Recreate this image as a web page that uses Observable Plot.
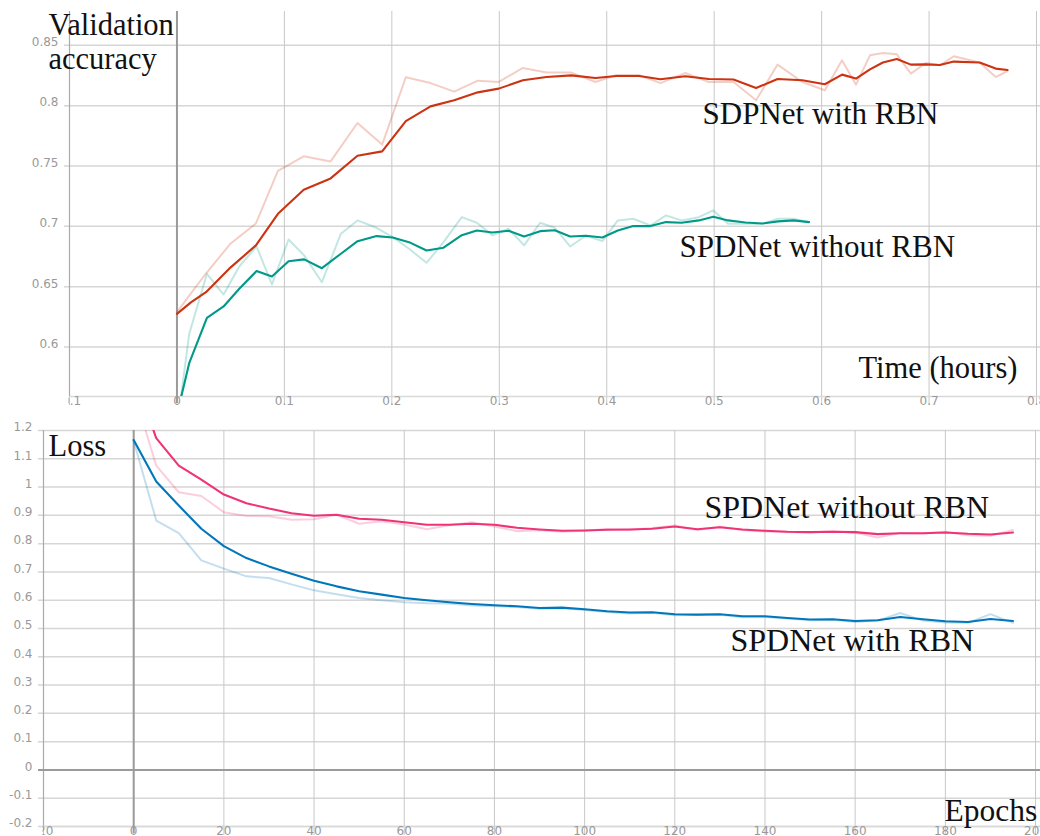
<!DOCTYPE html>
<html><head><meta charset="utf-8">
<script src="https://cdn.jsdelivr.net/npm/d3@7"></script>
<script src="https://cdn.jsdelivr.net/npm/@observablehq/plot@0.6"></script>
<style>
html,body{margin:0;padding:0;background:#fff;overflow:hidden;}
#wrap{width:1040px;height:836px;overflow:hidden;}
#wrap svg{display:block;}
</style></head><body><div id="wrap"></div>
<script>
// ---------- Top chart: validation accuracy vs time (hours) ----------
const timeWithRBN = [0,0.013,0.027,0.050,0.0735,0.094,0.118,0.143,0.168,0.191,0.213,0.236,0.258,0.280,
  0.2995,0.322,0.344,0.367,0.3895,0.409,0.430,0.450,0.473,0.495,0.518,0.539,0.559,0.582,0.603,0.619,
  0.632,0.645,0.657,0.670,0.683,0.697,0.710,0.723,0.747,0.762,0.773];
const accWithRBNSmooth = [0.6275,0.637,0.6454,0.666,0.6842,0.7104,0.7303,0.7397,0.7585,0.7621,0.7872,0.7994,0.8044,0.8110,
  0.8141,0.8210,0.8237,0.8251,0.8229,0.8245,0.8245,0.8218,0.8243,0.8221,0.8216,0.8146,0.8221,0.8210,0.8177,0.8257,
  0.8224,0.8301,0.8357,0.8386,0.8340,0.8342,0.8337,0.8365,0.8357,0.8307,0.8295];
const accWithRBNRaw = [0.6289,0.6444,0.6609,0.6858,0.7024,0.7459,0.7580,0.7538,0.7856,0.7677,0.8235,0.8187,0.8116,0.8207,
  0.8196,0.8312,0.8274,0.8274,0.8196,0.8254,0.8254,0.8187,0.8270,0.8196,0.8196,0.8044,0.8340,0.8196,0.8127,0.8376,
  0.8174,0.8417,0.8436,0.8425,0.8265,0.8353,0.8334,0.8409,0.8357,0.8237,0.8287];

const timeWithoutRBN = [0,0.0114,0.0279,0.0434,0.0580,0.0741,0.0884,0.1039,0.1184,0.1349,
  0.1526,0.1681,0.1858,0.2007,0.2160,0.2323,0.2481,0.2651,0.2791,0.2937,
  0.3086,0.3231,0.3380,0.3516,0.3659,0.3805,0.3960,0.4103,0.4247,0.4407,
  0.4552,0.4697,0.4857,0.4992,0.5129,0.5290,0.5450,0.5594,0.5739,0.5883];
const accWithoutRBNSmooth = [0.544,0.5866,0.6242,0.6336,0.6483,0.6629,0.6585,0.6711,0.6726,0.6653,
  0.6773,0.6877,0.6919,0.6908,0.6869,0.6800,0.6823,0.6927,0.6966,0.6949,
  0.6963,0.6916,0.6960,0.6968,0.6916,0.6922,0.6908,0.6966,0.7002,0.7002,
  0.7035,0.7030,0.7049,0.7080,0.7049,0.7032,0.7024,0.7041,0.7049,0.7035];
const accWithoutRBNRaw = [0.533,0.6109,0.6607,0.6435,0.6667,0.6833,0.6518,0.6891,0.6759,0.6537,
  0.6939,0.7049,0.6988,0.6910,0.6814,0.6698,0.6869,0.7076,0.7030,0.6925,
  0.6980,0.6842,0.7030,0.6988,0.6833,0.6922,0.6877,0.7049,0.7063,0.7007,
  0.7090,0.7049,0.7076,0.7132,0.7022,0.7022,0.7022,0.7063,0.7063,0.7035];

const topXTicks = [-0.1,0,0.1,0.2,0.3,0.4,0.5,0.6,0.7,0.8];
const topYTicks = [0.6,0.65,0.7,0.75,0.8,0.85];
const topXDomain = [-0.1, 0.8037];
const topYDomain = [0.559, 0.878];

// ---------- Bottom chart: loss vs epochs ----------
const epochs = [0,5,10,15,20,25,30,35,40,45,50,55,60,65,70,75,80,85,90,95,
  100,105,110,115,120,125,130,135,140,145,150,155,160,165,170,175,180,185,190,195];
const lossWithRBNSmooth = [1.1665,1.0194,0.9347,0.8526,0.7912,0.7489,0.7196,0.6938,0.6691,0.6490,
  0.6314,0.6198,0.6078,0.5996,0.5926,0.5866,0.5820,0.5785,0.5725,0.5739,
  0.5679,0.5608,0.5563,0.5573,0.5503,0.5492,0.5503,0.5432,0.5432,0.5372,
  0.5316,0.5326,0.5266,0.5291,0.5407,0.5326,0.5256,0.5231,0.5337,0.5266];
const lossWithRBNRaw = [1.164,0.8818,0.8370,0.7407,0.7115,0.6843,0.6783,0.6561,0.6349,0.6208,
  0.6078,0.5996,0.5926,0.5891,0.5880,0.5810,0.5785,0.5760,0.570,0.572,
  0.565,0.558,0.553,0.556,0.547,0.548,0.549,0.540,0.541,0.535,
  0.529,0.531,0.523,0.528,0.555,0.528,0.521,0.520,0.551,0.520];
const lossWithoutRBNSmooth = [1.40,1.1728,1.0758,1.0265,0.9735,0.9429,0.9242,0.9076,0.8984,0.9019,
  0.8878,0.8843,0.8758,0.8667,0.8667,0.8702,0.8667,0.8561,0.8501,0.8455,
  0.8466,0.8490,0.8501,0.8526,0.8607,0.8511,0.8582,0.8501,0.8455,0.8420,
  0.8406,0.8420,0.8406,0.8335,0.8370,0.8370,0.8395,0.8349,0.8325,0.8395];
const lossWithoutRBNRaw = [1.34,1.0758,0.9817,0.9683,0.9111,0.8977,0.8970,0.8843,0.8864,0.9019,
  0.8702,0.8794,0.8677,0.8511,0.8653,0.8758,0.8607,0.8441,0.847,0.842,
  0.846,0.852,0.848,0.855,0.864,0.848,0.861,0.847,0.843,0.840,
  0.839,0.844,0.838,0.822,0.838,0.836,0.842,0.830,0.828,0.848];

const botXTicks = [-20,0,20,40,60,80,100,120,140,160,180,200];
const botYTicks = [-0.2,-0.1,0,0.1,0.2,0.3,0.4,0.5,0.6,0.7,0.8,0.9,1,1.1,1.2];
const botXDomain = [-20, 201.1];
const botYDomain = [-0.2, 1.2];

// ---------- helpers ----------
const RED = "#cc3311", TEAL = "#009988", MAGENTA = "#ee3377", BLUE = "#0077bb";
const SERIF = "Liberation Serif";
const fmt = d => String(Math.round(d * 100) / 100);
const rows = (xs, ys) => xs.map((x, i) => ({x, y: ys[i]}));

function series(xs, smooth, raw, color) {
  return [
    Plot.line(rows(xs, raw), {x: "x", y: "y", stroke: color, strokeWidth: 2, strokeOpacity: 0.24, clip: true}),
    Plot.line(rows(xs, smooth), {x: "x", y: "y", stroke: color, strokeWidth: 2.1, clip: true})
  ];
}
function label(text, dx, dy, size, lh = 1.1) {
  return Plot.text([text], {text: d => d, frameAnchor: "top-left", textAnchor: "start", lineAnchor: "top",
    dx, dy, fontSize: size, fontFamily: SERIF, fill: "#111", lineHeight: lh});
}
function axes(xTicks, yTicks, xDom, yDom) {
  return [
    Plot.gridY(yTicks, {stroke: "#d6d6d6", strokeOpacity: 1, strokeWidth: 1.5, insetLeft: -5}),
    Plot.gridX(xTicks, {stroke: "#c8c8c8", strokeOpacity: 1, strokeWidth: 1, insetBottom: -9}),
    Plot.ruleY([yDom[0]], {stroke: "#d9d9d9", strokeWidth: 1.5}),
    Plot.ruleX([xDom[0]], {stroke: "#aaaaaa", strokeWidth: 1.2}),
    Plot.ruleX([0], {stroke: "#9a9a9a", strokeWidth: 2, insetBottom: -7}),
    Plot.axisY(yTicks, {anchor: "left", tickSize: 0, tickPadding: 11, tickFormat: fmt, fill: "#999", dy: -3,
      fontSize: 12, label: null}),
    Plot.axisX(xTicks, {anchor: "bottom", tickSize: 0, tickPadding: 0, tickFormat: fmt, fill: "#999",
      fontSize: 12, label: null})
  ];
}
function clipLeftLabels(svg, x0, id) {
  const s = d3.select(svg);
  s.append("defs").append("clipPath").attr("id", id)
    .append("rect").attr("x", x0).attr("y", -50).attr("width", 3000).attr("height", 3000);
  s.selectAll('g[aria-label="x-axis tick label"]').attr("clip-path", `url(#${id})`);
}

const common = {style: {fontFamily: "DejaVu Sans", fontSize: "12px", background: "#fff", overflow: "visible"}};

const topChart = Plot.plot({
  ...common,
  width: 1040, height: 412,
  marginLeft: 69, marginRight: 0, marginTop: 11, marginBottom: 16,
  x: {domain: topXDomain},
  y: {domain: topYDomain},
  marks: [
    ...axes(topXTicks, topYTicks, topXDomain, topYDomain),
    ...series(timeWithoutRBN, accWithoutRBNSmooth, accWithoutRBNRaw, TEAL),
    ...series(timeWithRBN, accWithRBNSmooth, accWithRBNRaw, RED),
    label("Validation\naccuracy", -21, 0, 30.5, 1.1),
    label("SDPNet with RBN", 633, 88, 31),
    label("SPDNet without RBN", 610, 221, 31),
    label("Time (hours)", 789, 343, 30.5)
  ]
});

const botChart = Plot.plot({
  ...common,
  width: 1040, height: 424,
  marginLeft: 43, marginRight: 0, marginTop: 18, marginBottom: 10,
  x: {domain: botXDomain},
  y: {domain: botYDomain},
  marks: [
    ...axes(botXTicks, botYTicks, botXDomain, botYDomain),
    Plot.ruleY([0], {stroke: "#9a9a9a", strokeWidth: 2, insetLeft: -5}),
    ...series(epochs, lossWithRBNSmooth, lossWithRBNRaw, BLUE),
    ...series(epochs, lossWithoutRBNSmooth, lossWithoutRBNRaw, MAGENTA),
    label("Loss", 5, 2, 30.5),
    label("SPDNet without RBN", 661, 62, 32),
    label("SPDNet with RBN", 687, 195, 32),
    label("Epochs", 901, 366, 31.5)
  ]
});

const wrap = document.getElementById("wrap");
wrap.appendChild(topChart);
wrap.appendChild(botChart);
clipLeftLabels(topChart, 68, "clipTop");
clipLeftLabels(botChart, 42, "clipBot");
</script></body></html>
